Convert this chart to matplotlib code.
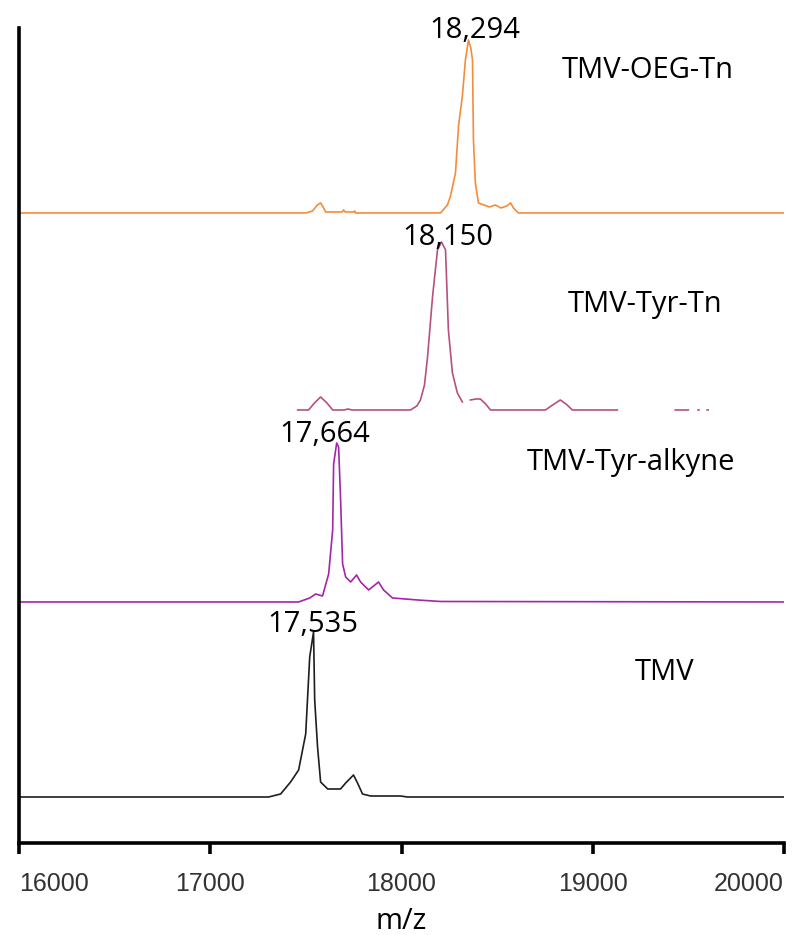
import numpy as np
import matplotlib.pyplot as plt

# m/z and intensity (a.u.), one trace per sample
mz_oeg = [16000, 17500, 17535, 17560, 17577, 17590, 17603, 17690, 17697, 17705, 17750, 17755, 17760,
          18204, 18240, 18256, 18282, 18298, 18318, 18334, 18350, 18362, 18371, 18376, 18386, 18402,
          18430, 18460, 18490, 18520, 18550, 18570, 18585, 18611, 18700, 20000]
int_oeg = [0, 0, 2, 8, 10, 6, 1, 1, 3, 1, 1, 2, 0,
           0, 8, 17, 40, 87, 117, 153, 173, 165, 153, 73, 30, 10,
           8, 6, 8, 5, 7, 10, 5, 0, 0, 0]

mz_tyrtn = [17457, 17514, 17545, 17577, 17610, 17640, 17700, 17720, 17740,
            18047, 18080, 18099, 18120, 18136, 18162, 18188, 18209, 18230, 18245, 18266, 18292, 18318,
            np.nan, 18360, 18390, 18412, 18440, 18465, 18752, 18790, 18830, 18860, 18893, 19128,
            np.nan, 19431, 19499, np.nan, 19550, 19555, np.nan, 19598, 19603]
int_tyrtn = [0, 0, 7, 13, 7, 0, 0, 1, 0,
             0, 4, 10, 25, 53, 113, 160, 168, 160, 80, 37, 17, 8,
             np.nan, 10, 11, 11, 6, 0, 0, 5, 10, 6, 0, 0,
             np.nan, 0, 0, np.nan, 0, 0, np.nan, 0, 0]

mz_alk = [16000, 17462, 17520, 17551, 17587, 17619, 17640, 17645, 17661, 17671, 17681, 17692, 17708,
          17734, 17765, 17786, 17828, 17880, 17906, 17953, 18084, 18204, 20000]
int_alk = [0, 0, 4, 8, 6, 28, 72, 138, 159, 155, 105, 38, 25,
           20, 27, 20, 12, 20, 12, 4, 2, 0.5, 0]

mz_tmv = [16000, 17305, 17368, 17420, 17462, 17499, 17520, 17540, 17546, 17561, 17577, 17614,
          17681, 17708, 17749, 17770, 17796, 17838, 17995, 18031, 20000]
int_tmv = [0, 0, 3, 15, 27, 63, 140, 165, 97, 50, 15, 8,
           8, 14, 22, 14, 3, 1, 1, 0, 0]

offsets = [630, 433, 241, 46]
colors = ['#f58b3c', '#b5517f', '#a326a8', '#1e1e1e']

peak_labels = ['18,294', '18,150', '17,664', '17,535']
peak_pos = [(18384, 805), (18243, 598), (17600, 401), (17537, 211)]
names = ['TMV-OEG-Tn', 'TMV-Tyr-Tn', 'TMV-Tyr-alkyne', 'TMV']
name_pos = [(18839, 765), (18871, 531), (18656, 373), (19221, 163)]
xticks = [16000, 17000, 18000, 19000, 20000]

plt.rcParams['font.family'] = ['Open Sans', 'DejaVu Sans']

fig = plt.figure(figsize=(7.97, 9.35), dpi=100)
ax = fig.add_axes([0.0238, 0.0984, 0.96, 0.8717])

traces = [(mz_oeg, int_oeg), (mz_tyrtn, int_tyrtn), (mz_alk, int_alk), (mz_tmv, int_tmv)]
for (mz, inten), off, c in zip(traces, offsets, colors):
    ax.plot(mz, np.array(inten, dtype=float) + off, color=c, lw=1.2)

for lab, (x, y) in zip(peak_labels, peak_pos):
    ax.text(x, y, lab, ha='center', va='baseline', fontsize=21, color='black', clip_on=False)
for lab, (x, y) in zip(names, name_pos):
    ax.text(x, y, lab, ha='left', va='baseline', fontsize=21, color='black', clip_on=False)

ax.set_xlim(16000, 20000)
ax.set_ylim(0, 815)
ax.set_xticks(xticks)
ax.set_xticklabels([str(t) for t in xticks])
ax.set_yticks([])
for s in ['top', 'right']:
    ax.spines[s].set_visible(False)
for s in ['left', 'bottom']:
    ax.spines[s].set_linewidth(2.6)
ax.tick_params(axis='x', direction='out', length=8, width=2.6, pad=13)
labels = ax.get_xticklabels()
for t in labels:
    t.set_family(['Liberation Sans Narrow', 'Liberation Sans'])
    t.set_fontsize(18)
    t.set_color('#333333')
labels[0].set_ha('left')
labels[-1].set_ha('right')
ax.set_xlabel('m/z', fontsize=21, labelpad=8)

fig.savefig('out.png', dpi=100)
